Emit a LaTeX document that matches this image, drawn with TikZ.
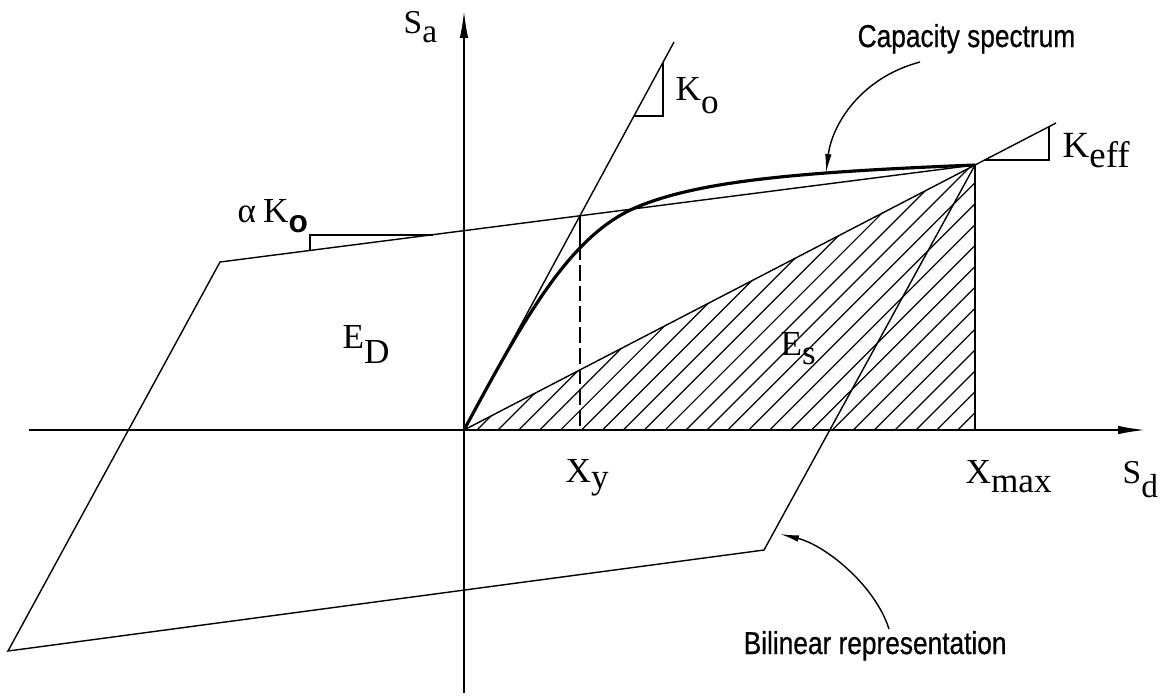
\documentclass[tikz,border=0pt]{standalone}
\usepackage{fontspec}
\setmainfont{Liberation Serif}
\newfontfamily\annfont[FakeStretch=0.83, FakeBold=0.6]{Liberation Sans}
\newfontfamily\plainsans{Liberation Sans}
\usetikzlibrary{arrows.meta}

% lowered subscript, same size as the letter
\newcommand{\lowsub}[2][3.5pt]{\raisebox{-#1}{#2}}

\begin{document}
\begin{tikzpicture}[x=0.01cm, y=-0.01cm,
    thinline/.style={line width=0.4pt},
    curveline/.style={line width=0.9pt},
    axisline/.style={line width=0.6pt, -{Latex[length=2.8mm, width=0.85mm]}},
    hatchline/.style={line width=0.35pt},
    lbl/.style={anchor=base west, inner sep=0pt, font=\fontsize{10}{12}\selectfont},
    ann/.style={anchor=base west, inner sep=0pt, font=\annfont\fontsize{9}{11}\selectfont},
    annarrow/.style={line width=0.4pt, -{Latex[length=1.9mm, width=0.65mm]}}]

  \useasboundingbox (0,0) rectangle (1170,696);

  % key points
  \coordinate (O) at (464,430);
  \coordinate (Y) at (580,216);
  \coordinate (Yc) at (580,244);
  \coordinate (Yb) at (580,430);
  \coordinate (C) at (637,207);
  \coordinate (M) at (975,165);
  \coordinate (Mb) at (975,430);
  \coordinate (Ktop) at (674,42);
  \coordinate (Keff) at (1056,123);

  % bilinear loop corners
  \coordinate (P1) at (220,262);
  \coordinate (P2) at (8,651);
  \coordinate (P3) at (764,550);

  % axes
  \coordinate (xl) at (29,430);
  \coordinate (xr) at (1146,430);
  \coordinate (yb) at (464,693);
  \coordinate (yt) at (464,10);
  \draw[axisline] (xl) -- (xr);
  \draw[axisline] (yb) -- (yt);

  % hatched strain energy triangle
  \begin{scope}
    \clip (O) -- (M) -- (Mb) -- cycle;
    \foreach \k in {0,...,36}
      \draw[hatchline] (477+20.9*\k,430) -- ++(560,-560);
  \end{scope}
  \draw[thinline] (O) -- (Keff);
  \draw[thinline] (M) -- (Mb);

  % bilinear representation
  \draw[thinline] (P1) -- (M) -- (P3) -- (P2) -- cycle;

  % initial stiffness
  \draw[thinline] (O) -- (Ktop);
  \draw[thinline] (Y) -- (Yc);
  \draw[thinline, dash pattern=on 4.5pt off 1.4pt] (Yc) -- (Yb);

  % capacity spectrum
  \draw[curveline] (O) .. controls (525,317) and (570,235) .. (C)
    .. controls (700,180.7) and (800,172) .. (M);

  % slope triangles
  \draw[thinline] (634,116) -- (663,116) -- (663,63);
  \draw[thinline] (984.6,160) -- (1049,160) -- (1049,126.6);
  \draw[thinline] (310,250.4) -- (310,235) -- (433,235);

  % labels
  \node[lbl, font=\fontsize{9.5}{11}\selectfont] (Sa) at (403,33) {S\lowsub[2.8pt]{a}};
  \node[lbl, font=\fontsize{9.5}{11}\selectfont] (Sd) at (1122,483) {S\lowsub[4pt]{d}};
  \node[lbl] (Xy) at (565,482) {X\lowsub[1.8pt]{y}};
  \node[lbl] (Xmax) at (965,483) {X\lowsub[2.8pt]{max}};
  \node[lbl] (Ko) at (675,100) {K\lowsub[3.7pt]{o}};
  \node[lbl, font=\fontsize{10.5}{12}\selectfont] (Keffl) at (1062,157) {K\lowsub[3pt]{eff}};
  \node[lbl] (ED) at (342,348) {E\lowsub[4.3pt]{D}};
  \node[lbl] (Es) at (780,355) {E\lowsub[2.8pt]{s}};
  \node[lbl] (aKo) at (237,222)
    {α\hspace{2pt}K\lowsub[3pt]{\plainsans\bfseries\fontsize{9}{10}\selectfont o}};

  % annotations
  \node[ann] (cap) at (857,47) {Capacity spectrum};
  \node[ann] (bil) at (743,654) {Bilinear representation};
  \coordinate (capS) at (920,62);
  \coordinate (capT) at (826,173);
  \coordinate (bilS) at (889,629);
  \coordinate (bilT) at (780,534);
  \draw[annarrow] (capS) .. controls (860,78) and (832,125) .. (capT);
  \draw[annarrow] (bilS) .. controls (875,585) and (825,545) .. (bilT);
\end{tikzpicture}
\end{document}
